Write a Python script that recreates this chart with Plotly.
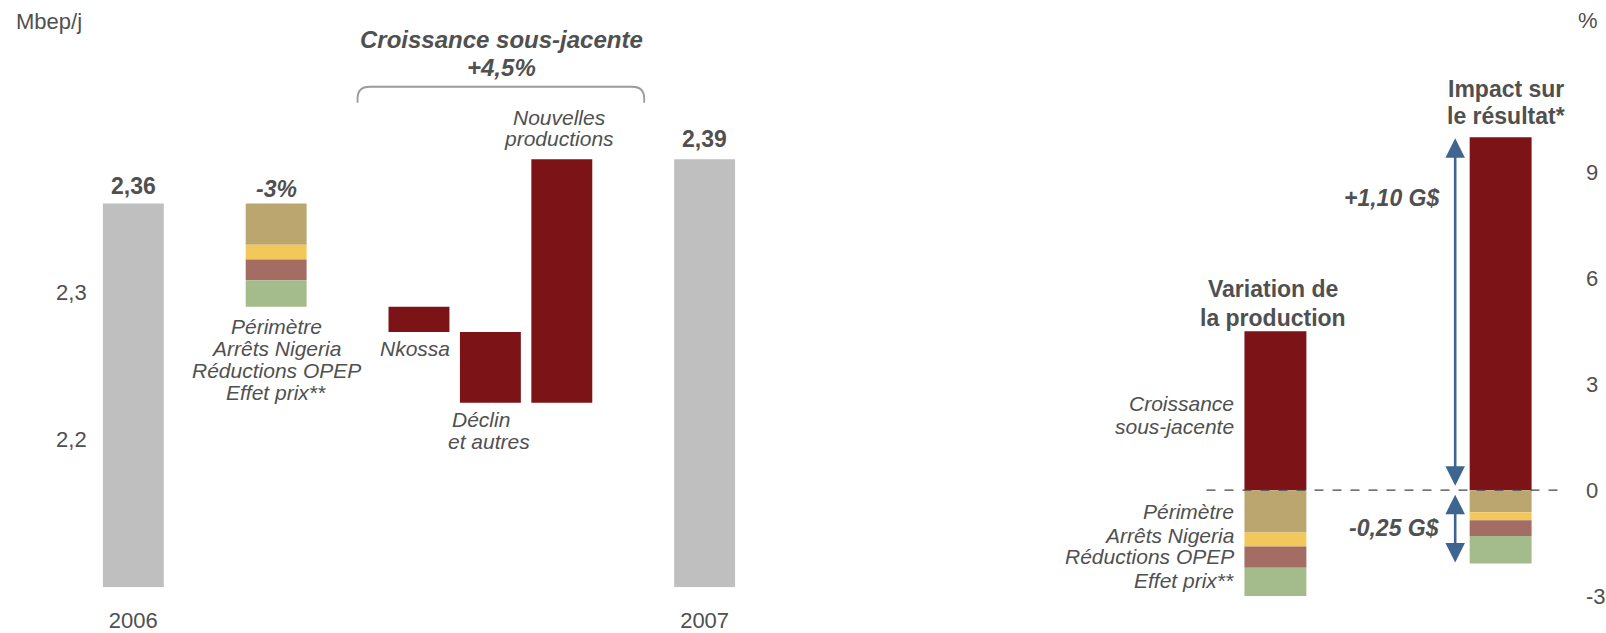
import plotly.graph_objects as go

# ---------------- data ----------------
# Production bridge 2006 -> 2007 (Mbep/j)
prod_2006 = 2.36
prod_2007 = 2.39
loss_labels = ["Périmètre", "Arrêts Nigeria", "Réductions OPEP", "Effet prix**"]
loss_mbepj = [-0.028, -0.010, -0.014, -0.018]
growth_labels = ["Nkossa", "Déclin et autres", "Nouvelles productions"]
growth_mbepj = [-0.017, -0.048, 0.165]

# Same effects expressed in % (production variation / impact on result)
loss_pct = [-1.2, -0.4, -0.6, -0.8]
growth_pct = 4.5
impact_pos_pct = 10.0
impact_neg_pct = [-0.63, -0.22, -0.45, -0.78]
impact_gusd = [1.10, -0.25]

left_ticks = [2.2, 2.3]
right_ticks = [-3, 0, 3, 6, 9]

# ---------------- styling ----------------
W, H = 1606, 633
FONT = "Liberation Sans, Arial, sans-serif"
TXT = "#505050"
GREY = "#BFBFBF"
RED = "#7C1316"
LOSS_COLORS = ["#BCA66F", "#F2C85B", "#A46D64", "#A4BC8C"]
ARROW = "#3E6490"


def px(x):
    return x / W


def py(y):
    return 1 - y / H


def fmt(v, nd):
    return f"{v:.{nd}f}".replace(".", ",")


# categories of the bridge, with empty slots for spacing
cats = ["2006", " ", "Pertes", "  ", growth_labels[0], growth_labels[1],
        growth_labels[2], "   ", "2007"]

fig = go.Figure()

# register category order (incl. spacer slots)
fig.add_trace(go.Scatter(x=cats, y=[None] * len(cats), mode="markers",
                         showlegend=False, hoverinfo="skip",
                         xaxis="x", yaxis="y"))

BW_L = 0.853
base_left = 2.1
# start / end bars
fig.add_trace(go.Bar(x=["2006", "2007"],
                     y=[prod_2006 - base_left, prod_2007 - base_left],
                     base=[base_left, base_left], width=BW_L,
                     marker=dict(color=GREY, line_width=0),
                     showlegend=False, xaxis="x", yaxis="y"))

# loss stack below 2006 level
level = prod_2006
for lab, v, col in zip(loss_labels, loss_mbepj, LOSS_COLORS):
    fig.add_trace(go.Bar(x=["Pertes"], y=[-v], base=[level + v], width=BW_L,
                         marker=dict(color=col, line_width=0), name=lab,
                         showlegend=False, xaxis="x", yaxis="y"))
    level += v

# underlying growth steps
for lab, v in zip(growth_labels, growth_mbepj):
    lo = min(level, level + v)
    fig.add_trace(go.Bar(x=[lab], y=[abs(v)], base=[lo], width=BW_L,
                         marker=dict(color=RED, line_width=0), name=lab,
                         showlegend=False, xaxis="x", yaxis="y"))
    level += v

# ---------------- right panel ----------------
rcats = ["Variation de la production", "Impact sur le résultat*"]
BW_R = 0.275
fig.add_trace(go.Bar(x=rcats, y=[growth_pct, impact_pos_pct], base=[0, 0],
                     width=BW_R, marker=dict(color=RED, line_width=0),
                     showlegend=False, xaxis="x2", yaxis="y2"))
lv_a, lv_b = 0.0, 0.0
for i, col in enumerate(LOSS_COLORS):
    a, b = loss_pct[i], impact_neg_pct[i]
    fig.add_trace(go.Bar(x=rcats, y=[-a, -b], base=[lv_a + a, lv_b + b],
                         width=BW_R, marker=dict(color=col, line_width=0),
                         showlegend=False, xaxis="x2", yaxis="y2"))
    lv_a += a
    lv_b += b
impact_neg_total = lv_b

# ---------------- axes ----------------
L_TOP, L_BOT = 60, 589
x_left = (133.5 - 35.75, 705.5 + 35.75)
y_lo, y_hi = base_left, 2.3 + (293 - L_TOP) / 1480

R_X0, R_X1 = 1208, 1565
zero_px, unit_px = 491.7, 35.4
r_lo, r_hi = -3.6, 11.6

fig.update_layout(
    width=W, height=H,
    margin=dict(l=0, r=0, t=0, b=0),
    paper_bgcolor="white", plot_bgcolor="white",
    barmode="overlay", separators=", ",
    font=dict(family=FONT, color=TXT, size=22),
    xaxis=dict(domain=[px(x_left[0]), px(x_left[1])], range=[-0.5, 8.5],
               type="category", showgrid=False, zeroline=False,
               showline=False, ticks="", tickvals=["2006", "2007"],
               ticktext=["2006", "2007"], ticklabelstandoff=18,
               tickfont=dict(size=22, color=TXT), fixedrange=True),
    yaxis=dict(domain=[1 - L_BOT / H, 1 - L_TOP / H], range=[y_lo, y_hi],
               showgrid=False, zeroline=False, showline=False, ticks="",
               tickvals=left_ticks, tickformat=".1f", ticklabelstandoff=10,
               tickfont=dict(size=22, color=TXT), fixedrange=True),
    xaxis2=dict(domain=[px(R_X0), px(R_X1)],
                range=[-(1277 - R_X0) / 225.5, (R_X1 - 1277) / 225.5],
                type="category", showgrid=False, zeroline=False,
                showline=False, ticks="", showticklabels=False,
                anchor="y2", fixedrange=True),
    yaxis2=dict(domain=[1 - (zero_px - r_lo * unit_px) / H,
                        1 - (zero_px - r_hi * unit_px) / H],
                range=[r_lo, r_hi], side="right", anchor="x2",
                showgrid=False, zeroline=False, showline=False, ticks="",
                tickvals=right_ticks,
                ticktext=[str(t) for t in right_ticks],
                ticklabelstandoff=22,
                tickfont=dict(size=22, color=TXT), fixedrange=True),
)

# zero reference line of the right panel
fig.add_shape(type="line", xref="x2 domain", yref="y2", x0=0, x1=1, y0=0, y1=0,
              line=dict(color="#444444", width=1.2, dash="dash"), layer="above")

# bracket over the underlying-growth steps
bx0, bx1, bt, bb, r = 358, 645, 87, 103, 12
path = (f"M {px(bx0)},{py(bb)} L {px(bx0)},{py(bt + r)} "
        f"Q {px(bx0)},{py(bt)} {px(bx0 + r)},{py(bt)} "
        f"L {px(bx1 - r)},{py(bt)} Q {px(bx1)},{py(bt)} {px(bx1)},{py(bt + r)} "
        f"L {px(bx1)},{py(bb)}")
fig.add_shape(type="path", xref="paper", yref="paper", path=path,
              line=dict(color="#9A9A9A", width=1.8))

ann = []


def txt(x, y, s, size=21, bold=False, italic=False, xanchor="center",
        color=TXT, **kw):
    d = dict(x=x, y=y, text=s, showarrow=False, xanchor=xanchor,
             yanchor="middle",
             font=dict(family=FONT, size=size, color=color,
                       weight="bold" if bold else "normal",
                       style="italic" if italic else "normal"))
    d.setdefault("xref", "paper")
    d.setdefault("yref", "paper")
    d.update(kw)
    ann.append(d)


# axis units
txt(px(14), py(22), "Mbep/j", size=22, xanchor="left")
txt(px(1590), py(21), "%", size=22)

# group header over the growth steps
txt(px(502), py(40), "Croissance sous-jacente", size=24, bold=True,
    italic=True)
txt(px(502), py(68), "+" + fmt(growth_pct, 1) + "%", size=24, bold=True,
    italic=True)

# value labels on the start/end bars (category positions by index)
i06, i07, ipl = cats.index("2006"), cats.index("2007"), cats.index("Pertes")
txt(i06, prod_2006, fmt(prod_2006, 2), size=23, bold=True,
    xref="x", yref="y", yshift=18)
txt(i07, prod_2007, fmt(prod_2007, 2), size=23, bold=True,
    xref="x", yref="y", yshift=20)
txt(ipl, prod_2006, f"{sum(loss_pct):.0f}%", size=23, bold=True,
    italic=True, xref="x", yref="y", yshift=15)

# loss labels under the stack
for lab, yy in zip(loss_labels, [328, 350, 372, 394]):
    txt(ipl, py(yy), lab, italic=True, xref="x")

txt(px(416), py(350), "Nkossa", italic=True)
txt(px(482), py(421), "Déclin", italic=True)
txt(px(490), py(443), "et autres", italic=True)
txt(px(560), py(118), "Nouvelles", italic=True)
txt(px(560), py(139), "productions", italic=True)

# right panel headers
txt(px(1275), py(290), "Variation de", size=23, bold=True)
txt(px(1275), py(319), "la production", size=23, bold=True)
txt(px(1508), py(89), "Impact sur", size=23, bold=True)
txt(px(1508), py(116), "le résultat*", size=23, bold=True)

# right panel segment labels
txt(px(1238), py(405), "Croissance", italic=True, xanchor="right")
txt(px(1238), py(428), "sous-jacente", italic=True, xanchor="right")
for lab, yy in zip(loss_labels, [513, 537, 558, 582]):
    txt(px(1238), py(yy), lab, italic=True, xanchor="right")

# impact amounts
txt(px(1443), py(199), "+" + fmt(impact_gusd[0], 2) + " G$", size=23,
    bold=True, italic=True, xanchor="right")
txt(px(1443), py(530), fmt(impact_gusd[1], 2) + " G$", size=23,
    bold=True, italic=True, xanchor="right")

# double-headed arrows spanning the positive and negative impacts
arrow_x = (1457 - 1277) / 225.5
for y0, y1 in [(0, impact_pos_pct), (0, impact_neg_total)]:
    ann.append(dict(xref="x2", yref="y2", axref="x2", ayref="y2",
                    x=arrow_x, y=y1, ax=arrow_x, ay=y0, text="",
                    showarrow=True, arrowside="end+start",
                    arrowhead=2, startarrowhead=2, arrowsize=1.5,
                    startarrowsize=1.5, arrowwidth=2.6, arrowcolor=ARROW,
                    standoff=1, startstandoff=3))

fig.update_layout(annotations=ann)

fig.write_html("out.html")
